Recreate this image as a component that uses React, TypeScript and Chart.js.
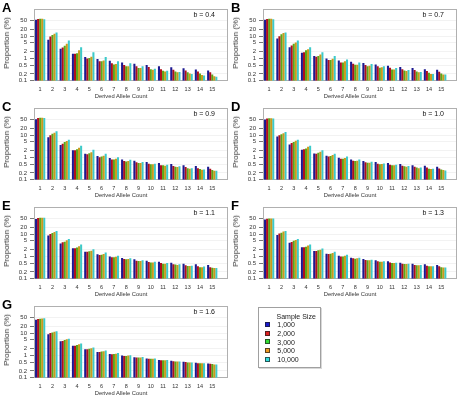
import React, { useEffect, useRef } from "react";
import { Chart, registerables } from "chart.js";

Chart.register(...registerables);

const FONT = '"Liberation Sans", Arial, Helvetica, sans-serif';

// ---- categories / labels ----
const alleleCounts = [1, 2, 3, 4, 5, 6, 7, 8, 9, 10, 11, 12, 13, 14, 15];
const sampleSizeLabels = ["1,000", "2,000", "3,000", "5,000", "10,000"];
const yTickValues = [0.1, 0.2, 0.5, 1, 2, 5, 10, 20, 50];
const barColors = ["#1c1890", "#b0101a", "#5aa818", "#cc9a1c", "#3ccaca"];
const legendColors = ["#1a1acc", "#dd2020", "#33dd33", "#ee9922", "#33dddd"];
const panelLetters = ["A", "B", "C", "D", "E", "F", "G"];
const panelBValues = ["0.4", "0.7", "0.9", "1.0", "1.1", "1.3", "1.6"];

// ---- Panel A (b = 0.4) ----
const a1000 = [54, 6.9, 2.7, 1.6, 1.15, 0.94, 0.79, 0.66, 0.58, 0.5, 0.44, 0.4, 0.36, 0.32, 0.29];
const a2000 = [58, 9.7, 3.1, 1.6, 1.0, 0.74, 0.6, 0.5, 0.44, 0.41, 0.33, 0.31, 0.29, 0.26, 0.24];
const a3000 = [60, 11.2, 3.7, 1.7, 1.05, 0.74, 0.54, 0.45, 0.37, 0.33, 0.28, 0.26, 0.24, 0.21, 0.19];
const a5000 = [60, 12.8, 4.6, 2.3, 1.2, 0.8, 0.56, 0.45, 0.37, 0.31, 0.26, 0.24, 0.21, 0.18, 0.16];
const a10000 = [57, 14.7, 6.4, 3.2, 1.9, 1.15, 0.74, 0.6, 0.44, 0.34, 0.28, 0.245, 0.2, 0.17, 0.15];

// ---- Panel B (b = 0.7) ----
const b1000 = [55, 7.9, 3.2, 1.8, 1.3, 1.0, 0.81, 0.71, 0.62, 0.54, 0.47, 0.41, 0.37, 0.33, 0.31];
const b2000 = [59, 10, 3.8, 1.9, 1.2, 0.85, 0.66, 0.58, 0.5, 0.44, 0.38, 0.33, 0.3, 0.27, 0.25];
const b3000 = [60, 12, 4.5, 2.3, 1.28, 0.85, 0.66, 0.52, 0.44, 0.38, 0.32, 0.29, 0.26, 0.23, 0.21];
const b5000 = [60, 13.7, 5.2, 2.6, 1.5, 0.97, 0.74, 0.52, 0.47, 0.4, 0.32, 0.27, 0.24, 0.2, 0.19];
const b10000 = [57, 14.7, 6.4, 3.2, 1.9, 1.3, 0.9, 0.66, 0.56, 0.45, 0.37, 0.3, 0.245, 0.2, 0.19];

// ---- Panel C (b = 0.9) ----
const c1000 = [52, 8.1, 3.6, 2.1, 1.45, 1.15, 0.93, 0.81, 0.71, 0.62, 0.56, 0.5, 0.45, 0.41, 0.38];
const c2000 = [58, 10, 4.1, 2.1, 1.4, 1.03, 0.81, 0.69, 0.6, 0.52, 0.45, 0.41, 0.37, 0.33, 0.31];
const c3000 = [60, 11.5, 4.9, 2.35, 1.55, 1.1, 0.81, 0.66, 0.56, 0.49, 0.44, 0.38, 0.33, 0.3, 0.27];
const c5000 = [60, 12.7, 5.4, 2.7, 1.7, 1.2, 0.87, 0.69, 0.56, 0.49, 0.42, 0.37, 0.31, 0.28, 0.25];
const c10000 = [58, 15, 6.2, 3.3, 2.2, 1.45, 1.03, 0.79, 0.62, 0.52, 0.47, 0.4, 0.33, 0.29, 0.25];

// ---- Panel D (b = 1.0) ----
const d1000 = [50, 8.7, 3.8, 2.2, 1.5, 1.2, 0.97, 0.81, 0.69, 0.62, 0.56, 0.5, 0.45, 0.42, 0.38];
const d2000 = [56, 10, 4.4, 2.3, 1.45, 1.1, 0.87, 0.71, 0.6, 0.52, 0.47, 0.42, 0.38, 0.35, 0.32];
const d3000 = [57, 11, 4.9, 2.5, 1.6, 1.15, 0.87, 0.69, 0.58, 0.49, 0.44, 0.4, 0.35, 0.31, 0.29];
const d5000 = [57, 12.3, 5.6, 3.0, 1.8, 1.3, 0.93, 0.71, 0.58, 0.5, 0.44, 0.38, 0.33, 0.3, 0.27];
const d10000 = [56, 14, 6.2, 3.3, 2.1, 1.45, 1.1, 0.81, 0.64, 0.54, 0.47, 0.41, 0.35, 0.31, 0.26];

// ---- Panel E (b = 1.1) ----
const e1000 = [48, 8.6, 3.75, 2.3, 1.6, 1.24, 1.0, 0.85, 0.74, 0.64, 0.58, 0.52, 0.47, 0.44, 0.41];
const e2000 = [53, 10.2, 4.3, 2.3, 1.6, 1.16, 0.91, 0.77, 0.64, 0.56, 0.51, 0.44, 0.4, 0.36, 0.33];
const e3000 = [55, 11.3, 4.6, 2.5, 1.7, 1.2, 0.91, 0.74, 0.62, 0.54, 0.47, 0.43, 0.37, 0.33, 0.31];
const e5000 = [55, 12.5, 5.3, 2.85, 1.8, 1.28, 0.97, 0.77, 0.62, 0.54, 0.47, 0.41, 0.37, 0.33, 0.3];
const e10000 = [54, 13.9, 6.1, 3.4, 2.1, 1.5, 1.08, 0.82, 0.67, 0.58, 0.51, 0.44, 0.38, 0.35, 0.3];

// ---- Panel F (b = 1.3) ----
const f1000 = [45, 9.2, 4.15, 2.55, 1.75, 1.33, 1.08, 0.88, 0.77, 0.67, 0.6, 0.52, 0.47, 0.44, 0.41];
const f2000 = [49, 10.6, 4.45, 2.55, 1.75, 1.28, 1.0, 0.82, 0.69, 0.6, 0.54, 0.47, 0.41, 0.38, 0.36];
const f3000 = [50, 11.6, 5.0, 2.75, 1.9, 1.33, 1.0, 0.79, 0.67, 0.58, 0.51, 0.46, 0.4, 0.36, 0.33];
const f5000 = [50, 13, 5.5, 3.05, 2.0, 1.43, 1.08, 0.82, 0.67, 0.58, 0.51, 0.46, 0.4, 0.36, 0.32];
const f10000 = [50, 13.9, 6.1, 3.4, 2.25, 1.6, 1.2, 0.88, 0.71, 0.6, 0.52, 0.47, 0.41, 0.36, 0.32];

// ---- Panel G (b = 1.6) ----
const g1000 = [40, 8.8, 4.3, 2.75, 1.9, 1.43, 1.17, 0.99, 0.83, 0.73, 0.63, 0.57, 0.52, 0.47, 0.43];
const g2000 = [43, 10.1, 4.45, 2.75, 1.9, 1.43, 1.13, 0.95, 0.8, 0.7, 0.61, 0.55, 0.5, 0.45, 0.42];
const g3000 = [44, 10.8, 4.9, 2.95, 2.0, 1.48, 1.17, 0.95, 0.8, 0.7, 0.61, 0.53, 0.48, 0.44, 0.41];
const g5000 = [45, 11.5, 5.3, 3.15, 2.1, 1.53, 1.2, 0.99, 0.8, 0.7, 0.61, 0.53, 0.48, 0.44, 0.39];
const g10000 = [46, 12.3, 5.6, 3.4, 2.25, 1.65, 1.29, 1.02, 0.86, 0.73, 0.63, 0.53, 0.48, 0.44, 0.39];

const panelSeries = [
  [a1000, a2000, a3000, a5000, a10000],
  [b1000, b2000, b3000, b5000, b10000],
  [c1000, c2000, c3000, c5000, c10000],
  [d1000, d2000, d3000, d5000, d10000],
  [e1000, e2000, e3000, e5000, e10000],
  [f1000, f2000, f3000, f5000, f10000],
  [g1000, g2000, g3000, g5000, g10000],
];

// ---- layout constants ----
const ROW_TOPS = [0, 99, 198, 297];
const COL_LEFTS = [0, 229];
const COL_WIDTHS = [229, 230];
const CANVAS_H = 98;
const PLOT_LEFT = 34;
const PLOT_RIGHT = 227.6;
const PLOT_TOP = 9.3;
const PLOT_BOTTOM = 80.7;
const X_MIN = 0.5;
const X_MAX = 16.25;
const Y_MIN = 0.1;
const Y_MAX = 160;

const framePlugin = {
  id: "panelFrame",
  beforeDatasetsDraw(chart: any) {
    const { ctx, chartArea: a } = chart;
    ctx.save();
    ctx.strokeStyle = "#b0b0b0";
    ctx.lineWidth = 1;
    const l = Math.round(a.left) + 0.5;
    const t = Math.round(a.top) + 0.5;
    const r = Math.round(a.right) - 0.5;
    const b = Math.round(a.bottom) - 0.5;
    ctx.strokeRect(l, t, r - l, b - t);
    ctx.restore();
  },
};

function Panel({ index }: { index: number }) {
  const ref = useRef<HTMLCanvasElement | null>(null);
  const row = Math.floor(index / 2);
  const col = index % 2;
  const left = COL_LEFTS[col];
  const top = ROW_TOPS[row];
  const width = COL_WIDTHS[col];

  useEffect(() => {
    const canvas = ref.current;
    if (!canvas) return;
    const series = panelSeries[index];
    const chart = new Chart(canvas, {
      type: "bar",
      data: {
        datasets: series.map((vals, k) => ({
          label: sampleSizeLabels[k],
          data: vals.map((v, i) => ({ x: alleleCounts[i], y: v })),
          backgroundColor: barColors[k],
          borderWidth: 0,
          categoryPercentage: 5 / 6,
          barPercentage: 1,
        })),
      },
      options: {
        responsive: false,
        animation: false,
        devicePixelRatio: 1,
        layout: {
          padding: { left: 0, top: PLOT_TOP, right: width - PLOT_RIGHT, bottom: 0 },
        },
        plugins: {
          legend: { display: false },
          tooltip: { enabled: false },
          title: { display: false },
        },
        scales: {
          x: {
            type: "linear",
            min: X_MIN,
            max: X_MAX,
            bounds: "data",
            offset: false,
            afterBuildTicks: (s: any) => {
              s.ticks = alleleCounts.map((v) => ({ value: v }));
            },
            afterFit: (s: any) => {
              s.height = CANVAS_H - PLOT_BOTTOM;
            },
            grid: { display: false, drawTicks: false },
            border: { display: false },
            ticks: {
              autoSkip: false,
              maxRotation: 0,
              padding: 5,
              color: "#333",
              font: { family: FONT, size: 5.5 },
              callback: (v: any) => String(v),
            },
            title: { display: false },
          },
          y: {
            type: "logarithmic",
            min: Y_MIN,
            max: Y_MAX,
            bounds: "data",
            afterBuildTicks: (s: any) => {
              s.ticks = yTickValues.map((v) => ({ value: v }));
            },
            afterFit: (s: any) => {
              s.width = PLOT_LEFT;
            },
            grid: {
              color: "#ededed",
              lineWidth: 0.7,
              tickColor: "#555",
              tickLength: 4,
              tickWidth: 0.8,
            },
            border: { display: true, color: "#888", width: 1 },
            ticks: {
              autoSkip: false,
              padding: 3,
              color: "#333",
              font: { family: FONT, size: 6 },
              callback: (v: any) => String(v),
            },
            title: { display: false },
          },
        },
      } as any,
      plugins: [framePlugin],
    } as any);
    return () => chart.destroy();
  }, [index, width]);

  return (
    <>
      <div style={{ position: "absolute", left, top, width, height: CANVAS_H }}>
        <canvas ref={ref} width={width} height={CANVAS_H} />
      </div>
      <div
        style={{
          position: "absolute",
          left: left + 2,
          top: top + 1.3,
          fontFamily: FONT,
          fontWeight: "bold",
          fontSize: 13,
          lineHeight: "13px",
          color: "#000",
        }}
      >
        {panelLetters[index]}
      </div>
      <div
        style={{
          position: "absolute",
          left: left + 215,
          top: top + 14.3,
          transform: "translate(-100%, -50%)",
          fontFamily: FONT,
          fontSize: 7,
          lineHeight: "7px",
          color: "#111",
          whiteSpace: "nowrap",
        }}
      >
        {"b = " + panelBValues[index]}
      </div>
      <div
        style={{
          position: "absolute",
          left: left + 6.5,
          top: top + 42.5,
          transform: "translate(-50%, -50%) rotate(-90deg)",
          fontFamily: FONT,
          fontSize: 8,
          lineHeight: "8px",
          color: "#333",
          whiteSpace: "nowrap",
        }}
      >
        Proportion (%)
      </div>
      <div
        style={{
          position: "absolute",
          left: left + 121,
          top: top + 95.8,
          transform: "translate(-50%, -50%)",
          fontFamily: FONT,
          fontSize: 5.8,
          lineHeight: "6px",
          color: "#333",
          whiteSpace: "nowrap",
        }}
      >
        Derived Allele Count
      </div>
    </>
  );
}

function Legend() {
  const rowCenters = [16.3, 25, 33.7, 42.3, 51];
  return (
    <div
      style={{
        position: "absolute",
        left: 258,
        top: 307,
        width: 61,
        height: 59,
        border: "1px solid #a0a0a0",
        boxShadow: "1px 1px 0 #d8d8d8",
        background: "#fff",
        fontFamily: FONT,
        fontSize: 7,
        color: "#222",
      }}
    >
      <div
        style={{
          position: "absolute",
          left: 17.5,
          top: 8,
          transform: "translateY(-50%)",
          lineHeight: "7px",
          whiteSpace: "nowrap",
        }}
      >
        Sample Size
      </div>
      {sampleSizeLabels.map((lab, k) => (
        <React.Fragment key={lab}>
          <div
            style={{
              position: "absolute",
              left: 6,
              top: rowCenters[k] - 2.5,
              width: 5,
              height: 5,
              boxSizing: "border-box",
              border: "1px solid rgba(30,30,30,0.7)",
              background: legendColors[k],
            }}
          />
          <div
            style={{
              position: "absolute",
              left: 18.3,
              top: rowCenters[k],
              transform: "translateY(-50%)",
              lineHeight: "7px",
              whiteSpace: "nowrap",
            }}
          >
            {lab}
          </div>
        </React.Fragment>
      ))}
    </div>
  );
}

export default function App() {
  return (
    <div
      style={{
        position: "absolute",
        left: 0,
        top: 0,
        width: 459,
        height: 395,
        overflow: "hidden",
        background: "#fff",
      }}
    >
      {panelSeries.map((_, i) => (
        <Panel key={i} index={i} />
      ))}
      <Legend />
    </div>
  );
}
